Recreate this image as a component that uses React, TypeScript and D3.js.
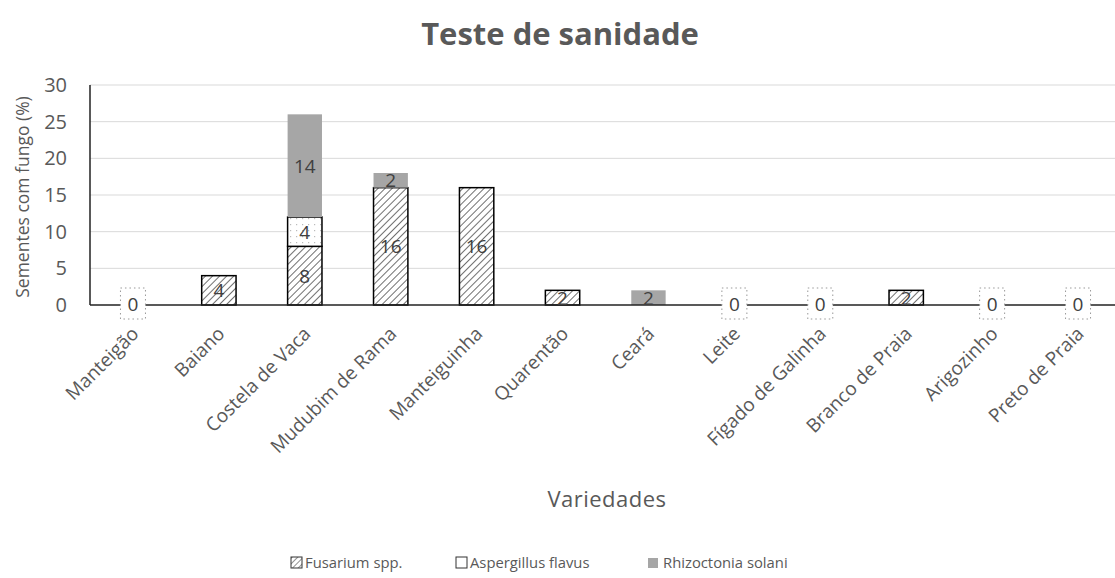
import React from "react";
import * as d3 from "d3";

const categories = ["Manteigão","Baiano","Costela de Vaca","Mudubim de Rama","Manteiguinha","Quarentão","Ceará","Leite","Fígado de Galinha","Branco de Praia","Arigozinho","Preto de Praia"];
const fusarium = [0,4,8,16,16,2,0,0,0,2,0,0];
const aspergillus = [0,0,4,0,0,0,0,0,0,0,0,0];
const rhizoctonia = [0,0,14,2,0,0,2,0,0,0,0,0];
const seriesNames = ["Fusarium spp.","Aspergillus flavus","Rhizoctonia solani"];
const yTicks = [0,5,10,15,20,25,30];

const W = 1115, H = 578;
const left = 90, right = 1121, top = 85, bottom = 305;
const textColor = "#595959";
const font = "'Open Sans', sans-serif";

export default function App() {
  const keys = ["f","a","r"];
  const rows = categories.map((c,i)=>({cat:c,f:fusarium[i],a:aspergillus[i],r:rhizoctonia[i]}));
  const stacked = d3.stack<any>().keys(keys)(rows);
  const x = d3.scaleBand().domain(categories).range([left,right]).paddingInner(0.6).paddingOuter(0.3);
  const y = d3.scaleLinear().domain([0,30]).range([bottom,top]);
  const bw = x.bandwidth();
  const fills: Record<string,string> = { f:"url(#hatch)", a:"url(#dots)", r:"#a6a6a6" };
  const strokes: Record<string,string> = { f:"#000", a:"#000", r:"none" };

  return (
    <svg width={W} height={H} style={{position:"absolute",left:0,top:0,background:"#fff"}} fontFamily={font}>
      <defs>
        <pattern id="hatch" patternUnits="userSpaceOnUse" width="5" height="5" patternTransform="rotate(45)">
          <rect width="5" height="5" fill="#fff"/>
          <line x1="0" y1="0" x2="0" y2="5" stroke="#222" strokeWidth="1.3"/>
        </pattern>
        <pattern id="dots" patternUnits="userSpaceOnUse" width="6" height="6">
          <rect width="6" height="6" fill="#fff"/>
          <rect x="2" y="2" width="1.2" height="1.2" fill="#bbb"/>
        </pattern>
        <pattern id="hatchLegend" patternUnits="userSpaceOnUse" width="4" height="4" patternTransform="rotate(45)">
          <rect width="4" height="4" fill="#fff"/>
          <line x1="0" y1="0" x2="0" y2="4" stroke="#333" strokeWidth="1.1"/>
        </pattern>
      </defs>
      <rect width={W} height={H} fill="#fff"/>
      <text x={560} y={45} textAnchor="middle" fontSize={31} fontWeight="bold" fill={textColor}>Teste de sanidade</text>
      {yTicks.map(t=> (
        <g key={t}>
          {t>0 && <line x1={left} x2={W} y1={y(t)} y2={y(t)} stroke="#d9d9d9" strokeWidth={1}/>}
          <text x={67} y={y(t)+7} textAnchor="end" fontSize={20} fill={textColor}>{t}</text>
        </g>
      ))}
      <text transform={`translate(29,${(top+bottom)/2+2}) rotate(-90)`} textAnchor="middle" fontSize={17.5} fill={textColor}>Sementes  com fungo (%)</text>
      {stacked.map(s => s.map((d,i)=> {
        const v = d[1]-d[0];
        if (v<=0) return null;
        return <rect key={s.key+i} x={x(categories[i])!} y={y(d[1])} width={bw} height={y(d[0])-y(d[1])}
          fill={fills[s.key]} stroke={strokes[s.key]} strokeWidth={1.5}/>;
      }))}
      <line x1={left} x2={W} y1={bottom} y2={bottom} stroke="#222" strokeWidth={1.5}/>
      <line x1={left} x2={left} y1={top} y2={bottom} stroke="#222" strokeWidth={1.5}/>
      {stacked.map(s => s.map((d,i)=> {
        const v = d[1]-d[0];
        if (v<=0) return null;
        return <text key={"l"+s.key+i} x={x(categories[i])!+bw/2} y={y((d[0]+d[1])/2)+7} textAnchor="middle" fontSize={19} fill="#404040">{v}</text>;
      }))}
      {rows.map((r,i)=> (r.f+r.a+r.r===0) ? (
        <g key={"z"+i}>
          <rect x={x(r.cat)!+bw/2-12.5} y={bottom-17} width={25} height={31} fill="#fff" stroke="#999" strokeWidth={1} strokeDasharray="1.5,3"/>
          <text x={x(r.cat)!+bw/2} y={bottom+6} textAnchor="middle" fontSize={19} fill="#404040">0</text>
        </g>
      ) : null)}
      {categories.map(c => (
        <text key={"x"+c} transform={`translate(${x(c)!+bw/2+7},${bottom+30}) rotate(-45)`} textAnchor="end" fontSize={19} fill={textColor}>{c}</text>
      ))}
      <text x={607} y={507} textAnchor="middle" fontSize={22} letterSpacing={0.5} fill={textColor}>Variedades</text>
      <g fontSize={14.8} fill={textColor}>
        <rect x={291} y={557} width={11} height={11} fill="url(#hatchLegend)" stroke="#333" strokeWidth={1}/>
        <text x={305} y={568}>{seriesNames[0]}</text>
        <rect x={456} y={557} width={11} height={11} fill="#fff" stroke="#333" strokeWidth={1}/>
        <text x={470} y={568}>{seriesNames[1]}</text>
        <rect x={648} y={558} width={10} height={10} fill="#a6a6a6"/>
        <text x={663} y={568}>{seriesNames[2]}</text>
      </g>
    </svg>
  );
}
